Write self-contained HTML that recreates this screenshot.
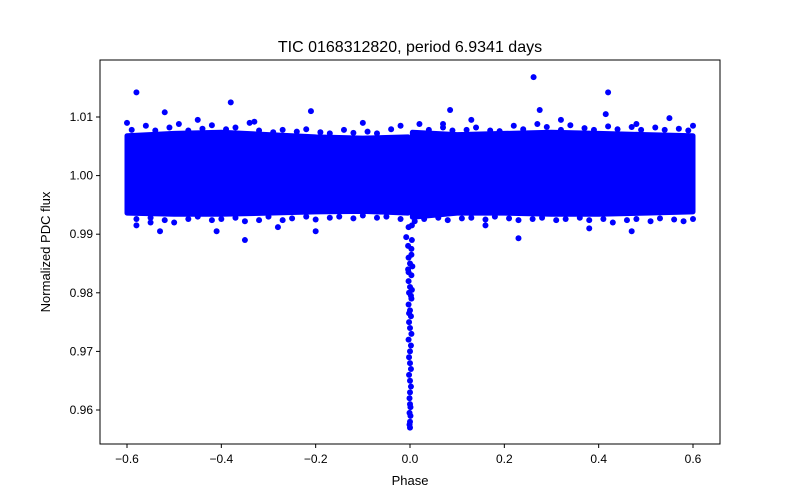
<!DOCTYPE html>
<html><head><meta charset="utf-8"><style>
body{margin:0;background:#fff}
svg{display:block;font-family:"Liberation Sans",sans-serif}
</style></head><body>
<svg width="800" height="500">
<rect x="100" y="60" width="620" height="384" fill="#fff" stroke="#000" stroke-width="1"/>
<g id="marks"></g>
<g id="axes"></g>
<text x="410" y="52" text-anchor="middle" font-size="16">TIC 0168312820, period 6.9341 days</text>
<text x="410" y="485" text-anchor="middle" font-size="13">Phase</text>
<text x="50" y="252" text-anchor="middle" font-size="13" transform="rotate(-90 50 252)">Normalized PDC flux</text>
</svg>
<script>
const xTicks=[-0.6,-0.4,-0.2,0.0,0.2,0.4,0.6];
const xTickLabels=["−0.6","−0.4","−0.2","0.0","0.2","0.4","0.6"];
const yTicks=[0.96,0.97,0.98,0.99,1.00,1.01];
const yTickLabels=["0.96","0.97","0.98","0.99","1.00","1.01"];
// band envelope (phase, upper flux, lower flux)
const bandPhaseL=[-0.6,-0.5,-0.4,-0.3,-0.2,-0.1,-0.004];
const bandUpperL=[1.0068,1.0072,1.0074,1.0070,1.0066,1.0064,1.0066];
const bandLowerL=[0.9936,0.9934,0.9934,0.9936,0.9938,0.9939,0.9936];
const bandPhaseR=[0.005,0.1,0.2,0.3,0.4,0.5,0.6];
const bandUpperR=[1.0074,1.0070,1.0072,1.0074,1.0072,1.0070,1.0068];
const bandLowerR=[0.9929,0.9936,0.9936,0.9934,0.9934,0.9936,0.9938];
// fringe points around the band edges
const frPhase=[-0.59,-0.56,-0.54,-0.51,-0.49,-0.47,-0.44,-0.42,-0.39,-0.37,-0.34,-0.32,-0.29,-0.27,-0.24,-0.22,-0.19,-0.17,-0.14,-0.12,-0.09,-0.07,-0.04,-0.02,0.02,0.04,0.07,0.09,0.12,0.14,0.17,0.19,0.22,0.24,0.27,0.29,0.32,0.34,0.37,0.39,0.42,0.44,0.47,0.49,0.52,0.54,0.57,0.59,
 -0.58,-0.55,-0.52,-0.5,-0.47,-0.45,-0.42,-0.4,-0.37,-0.35,-0.32,-0.3,-0.27,-0.25,-0.22,-0.2,-0.17,-0.15,-0.12,-0.1,-0.07,-0.05,-0.02,0.01,0.03,0.06,0.08,0.11,0.13,0.16,0.18,0.21,0.23,0.26,0.28,0.31,0.33,0.36,0.38,0.41,0.43,0.46,0.48,0.51,0.53,0.56,0.58,0.6];
const frFlux=[1.0078,1.0085,1.0077,1.0082,1.0088,1.0077,1.008,1.0086,1.0079,1.0082,1.009,1.0077,1.0074,1.0078,1.0075,1.0079,1.0074,1.0072,1.0078,1.0073,1.0075,1.0072,1.0079,1.0085,1.0088,1.0078,1.0082,1.0077,1.0078,1.0082,1.0077,1.0076,1.0085,1.0079,1.0088,1.0083,1.0078,1.0086,1.0081,1.0078,1.0084,1.0079,1.0083,1.0078,1.0082,1.0078,1.008,1.0077,
 0.9926,0.9928,0.9924,0.992,0.9926,0.993,0.9924,0.9926,0.9928,0.9922,0.9924,0.993,0.9924,0.9927,0.993,0.9925,0.9928,0.993,0.9927,0.9932,0.9928,0.993,0.9926,0.9922,0.9926,0.9928,0.9924,0.9927,0.9928,0.9925,0.993,0.9927,0.9924,0.9926,0.9928,0.9924,0.9926,0.9928,0.9924,0.9926,0.992,0.9924,0.9926,0.9922,0.9927,0.9925,0.9922,0.9926];
// outlier points
const outPhase=[-0.58,0.262,0.42,-0.38,0.085,0.275,-0.21,-0.35,0.23,-0.41,0.04,-0.58,0.47,-0.53,0.38,-0.2,-0.52,0.13,-0.45,0.55,-0.33,0.32,0.6,-0.6,0.415,-0.1,0.16,-0.55,0.48,-0.28,0.07];
const outFlux=[1.0142,1.0168,1.0142,1.0125,1.0112,1.0112,1.011,0.989,0.9893,0.9905,0.9935,0.9915,0.9905,0.9905,0.991,0.9905,1.0108,1.0095,1.0095,1.0098,1.0092,1.0095,1.0085,1.009,1.0105,1.009,0.9915,0.992,1.0088,0.9912,1.0088];
// transit points
const trPhase=[-0.008,0.004,-0.004,0.003,-0.003,0.0,0.005,-0.004,0.003,-0.003,0.0,0.004,-0.002,0.003,-0.003,0.0,0.002,-0.002,0.0,0.003,-0.003,0.002,0.0,-0.002,0.0,0.002,-0.002,0.0,0.002,0.0,-0.001,0.0,0.001,-0.001,0.001,0.0,-0.001,0.0,0.004,-0.003,0.003,-0.003,0.002,-0.002];
const trFlux=[0.9895,0.989,0.988,0.9875,0.986,0.985,0.9845,0.984,0.983,0.982,0.981,0.9805,0.98,0.979,0.978,0.977,0.976,0.975,0.974,0.973,0.972,0.971,0.97,0.969,0.968,0.967,0.966,0.965,0.964,0.963,0.962,0.961,0.9605,0.9595,0.959,0.958,0.9575,0.957,0.9915,0.9912,0.9865,0.9835,0.9795,0.9765];
const NS="http://www.w3.org/2000/svg";
const X=p=>410+p*471.67, Y=f=>175.6-(f-1)*5860;
const marks=document.getElementById('marks'), axes=document.getElementById('axes');
function band(ph,up,lo,name){
  let pts=ph.map((p,i)=>X(p)+','+Y(up[i]));
  for(let i=ph.length-1;i>=0;i--)pts.push(X(ph[i])+','+Y(lo[i]));
  const e=document.createElementNS(NS,'polygon');
  e.setAttribute('points',pts.join(' '));e.setAttribute('fill','#0000ff');
  e.setAttribute('stroke','#0000ff');e.setAttribute('stroke-width','5');e.setAttribute('stroke-linejoin','round');
  
  
  marks.appendChild(e);
}
band(bandPhaseL,bandUpperL,bandLowerL,'flux-band-left');
band(bandPhaseR,bandUpperR,bandLowerR,'flux-band-right');
function dot(p,f,name){
  const c=document.createElementNS(NS,'circle');
  c.setAttribute('cx',X(p));c.setAttribute('cy',Y(f));c.setAttribute('r',3);c.setAttribute('fill','#0000ff');
  
  
  marks.appendChild(c);
}
frPhase.forEach((p,i)=>dot(p,frFlux[i],'fringe-point'));
outPhase.forEach((p,i)=>dot(p,outFlux[i],'outlier-point'));
trPhase.forEach((p,i)=>dot(p,trFlux[i],'transit-point'));
function ln(x1,y1,x2,y2){const l=document.createElementNS(NS,'line');l.setAttribute('x1',x1);l.setAttribute('y1',y1);l.setAttribute('x2',x2);l.setAttribute('y2',y2);l.setAttribute('stroke','#000');
  
  
  axes.appendChild(l);}
function tx(x,y,s,a,name){const t=document.createElementNS(NS,'text');t.setAttribute('x',x);t.setAttribute('y',y);t.setAttribute('text-anchor',a);t.setAttribute('font-size','12');t.textContent=s;
  
  
  axes.appendChild(t);}
xTicks.forEach((v,i)=>{ln(X(v),444,X(v),448);tx(X(v),463,xTickLabels[i],'middle','x-tick-label');});
yTicks.forEach((v,i)=>{ln(96,Y(v),100,Y(v));tx(93,Y(v)+4,yTickLabels[i],'end','y-tick-label');});
</script>
</body></html>
